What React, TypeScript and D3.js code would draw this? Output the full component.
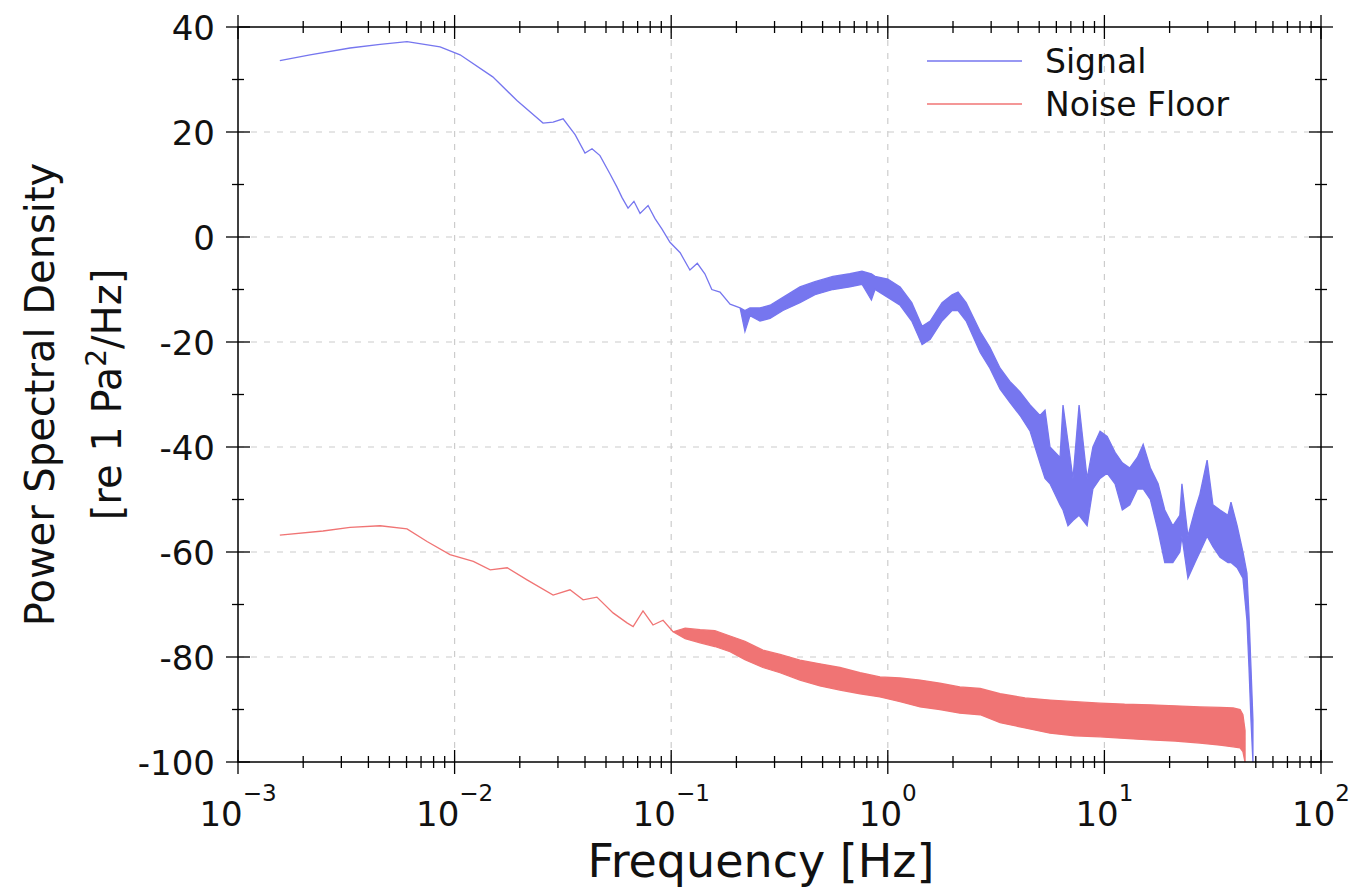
import React from 'react';
import * as d3 from 'd3';

// [frequency Hz, lower dB, upper dB] -- smooth part has lower == upper
const signalRows: [number, number, number][] = [
  [0.00156, 33.6, 33.6], [0.00215, 34.7, 34.7], [0.00329, 36.0, 36.0], [0.00453, 36.7, 36.7],
  [0.00603, 37.2, 37.2], [0.00857, 36.2, 36.2], [0.0106, 34.7, 34.7], [0.015, 30.5, 30.5],
  [0.0194, 26.0, 26.0], [0.0256, 21.7, 21.7], [0.0285, 21.9, 21.9], [0.0317, 22.5, 22.5],
  [0.036, 19.5, 19.5], [0.04, 16.0, 16.0], [0.0431, 16.8, 16.8], [0.0469, 15.5, 15.5],
  [0.0522, 12.0, 12.0], [0.0562, 9.5, 9.5], [0.0593, 7.5, 7.5], [0.0632, 5.5, 5.5],
  [0.0673, 6.8, 6.8], [0.0718, 4.5, 4.5], [0.0782, 6.0, 6.0], [0.0842, 3.5, 3.5],
  [0.0907, 1.5, 1.5], [0.0987, -1.0, -1.0], [0.11, -3.0, -3.0], [0.122, -6.3, -6.3],
  [0.132, -5.0, -5.0], [0.143, -7.0, -7.0], [0.154, -10.0, -10.0], [0.168, -10.5, -10.5],
  [0.187, -12.8, -12.8], [0.208, -13.5, -13.5],
  [0.219, -18, -14], [0.231, -15, -13.5], [0.257, -16, -13.5], [0.286, -15.5, -13],
  [0.328, -14, -11.5], [0.393, -12.5, -9.5], [0.461, -11, -8.5], [0.558, -10, -7.5],
  [0.668, -9.5, -7], [0.76, -9, -6.5], [0.84, -12, -7], [0.873, -10, -7.5],
  [1.0, -11.5, -8], [1.14, -13, -9.5], [1.29, -16, -12.5], [1.44, -20.5, -17],
  [1.57, -19.5, -16], [1.78, -16, -12.5], [1.98, -14, -11], [2.11, -14, -10.5],
  [2.3, -16, -12.5], [2.67, -22, -18], [2.96, -25, -21], [3.3, -29, -25],
  [3.66, -31.5, -27.5], [4.08, -34, -29.5], [4.54, -37, -32], [5.04, -43, -34],
  [5.32, -46, -33], [5.61, -47, -40], [6.24, -51, -42], [6.44, -52, -32],
  [6.79, -55, -39], [7.16, -54, -46], [7.64, -53, -32], [8.32, -55, -46],
  [8.85, -48, -40], [9.55, -46, -37], [10.3, -45, -38], [11.2, -47, -41],
  [12.1, -52, -43], [13.1, -51, -44], [14.2, -48, -42], [15.1, -48, -39.5],
  [16.3, -50, -44], [17.7, -56, -47], [19.0, -62, -52], [20.7, -62, -55],
  [22.3, -60, -53], [22.8, -57, -47], [24.3, -65, -57], [26.2, -62, -52],
  [27.6, -60, -49], [29.8, -57, -42.5], [31.7, -59, -51], [34.2, -61, -52],
  [37.2, -62, -53], [38.4, -62, -50.5], [41.0, -63, -55], [43.6, -65, -60],
  [45.5, -73, -64], [46.5, -82, -72], [47.5, -92, -82], [48.5, -100, -92],
];

const noiseRows: [number, number, number][] = [
  [0.00156, -56.8, -56.8], [0.00247, -56, -56], [0.00329, -55.3, -55.3], [0.00453, -55, -55],
  [0.00603, -55.6, -55.6], [0.00746, -58, -58], [0.00952, -60.5, -60.5], [0.0122, -61.8, -61.8],
  [0.0146, -63.4, -63.4], [0.0175, -63, -63], [0.0216, -65.3, -65.3], [0.0285, -68.2, -68.2],
  [0.0341, -67.2, -67.2], [0.0392, -69.1, -69.1], [0.0454, -68.6, -68.6], [0.0539, -71.6, -71.6],
  [0.0625, -73.5, -73.5], [0.0667, -74.2, -74.2], [0.0741, -71.2, -71.2], [0.0824, -73.9, -73.9],
  [0.0917, -73, -73], [0.102, -75.2, -75.2],
  [0.116, -76.5, -74.5], [0.136, -77.3, -74.8], [0.159, -78, -75], [0.187, -79, -76],
  [0.219, -80.5, -77], [0.265, -82, -78.7], [0.318, -83, -79.5], [0.393, -84.4, -80.6],
  [0.486, -85.5, -81.3], [0.601, -86.3, -82], [0.745, -87, -83], [0.92, -87.6, -83.8],
  [1.14, -88.5, -84], [1.41, -89.5, -84.4], [1.74, -90, -85], [2.15, -90.7, -85.7],
  [2.67, -91, -86], [3.3, -92.5, -87], [4.3, -93.5, -87.8], [5.61, -94.5, -88.2],
  [7.31, -95, -88.5], [9.55, -95.2, -88.8], [12.4, -95.5, -89], [16.3, -95.8, -89.1],
  [21.2, -96, -89.3], [27.6, -96.4, -89.5], [34.2, -96.8, -89.6], [39.3, -97.1, -89.7],
  [42.3, -97.3, -90], [43.6, -98, -91], [44.6, -100, -94],
];

const seriesNames = ['Signal', 'Noise Floor'];
const seriesColors = ['#7676ef', '#f07474'];
const xDecades = [1e-3, 1e-2, 1e-1, 1e0, 1e1, 1e2];
const xExponents = ['\u22123', '\u22122', '\u22121', '0', '1', '2'];
const yMajor = [-100, -80, -60, -40, -20, 0, 20, 40];
const yMinor = [-90, -70, -50, -30, -10, 10, 30];

const W = 1359;
const H = 893;
const margin = { top: 27, right: 38, bottom: 131, left: 238 };

const App = () => {
  const x = d3.scaleLog().domain([1e-3, 1e2]).range([margin.left, W - margin.right]);
  const y = d3.scaleLinear().domain([-100, 40]).range([H - margin.bottom, margin.top]);
  const x0 = margin.left, x1 = W - margin.right;
  const y0 = H - margin.bottom, y1 = margin.top;

  const band = d3.area<[number, number, number]>()
    .x(d => x(d[0]))
    .y0(d => y(d[1]))
    .y1(d => y(d[2]));

  // minor x ticks 2..9 per decade
  const xMinor: number[] = [];
  xDecades.slice(0, -1).forEach(d => {
    for (let k = 2; k <= 9; k++) xMinor.push(d * k);
  });

  const majorLen = 12;
  const minorLen = 6;
  const font = 'DejaVu Sans, Verdana, sans-serif';

  return (
    <svg width={W} height={H} style={{ position: 'absolute', left: 0, top: 0, background: '#fff' }}
      fontFamily={font}>
      <defs>
        <clipPath id="plot">
          <rect x={x0} y={y1} width={x1 - x0} height={y0 - y1 + 1} />
        </clipPath>
      </defs>

      {/* grid */}
      <g stroke="#cccccc" strokeWidth={1.2} strokeDasharray="6,7">
        {yMajor.filter(v => v > -100 && v < 40).map(v => (
          <line key={'gy' + v} x1={x0} x2={x1} y1={y(v)} y2={y(v)} />
        ))}
        {xDecades.slice(1, -1).map(v => (
          <line key={'gx' + v} x1={x(v)} x2={x(v)} y1={y1} y2={y0} />
        ))}
      </g>

      <g clipPath="url(#plot)">
        <path d={band(noiseRows) || ''} fill={seriesColors[1]} stroke={seriesColors[1]} strokeWidth={1.3} />
        <path d={band(signalRows) || ''} fill={seriesColors[0]} stroke={seriesColors[0]} strokeWidth={1.3} />
      </g>

      {/* frame */}
      <rect x={x0} y={y1} width={x1 - x0} height={y0 - y1} fill="none" stroke="#000" strokeWidth={1.5} />

      {/* ticks */}
      <g stroke="#000" strokeWidth={1.3}>
        {xDecades.map(v => (
          <g key={'xt' + v}>
            <line x1={x(v)} x2={x(v)} y1={y0 - majorLen} y2={y0 + majorLen} />
            <line x1={x(v)} x2={x(v)} y1={y1 - majorLen} y2={y1 + majorLen} />
          </g>
        ))}
        {xMinor.map(v => (
          <g key={'xm' + v}>
            <line x1={x(v)} x2={x(v)} y1={y0 - minorLen} y2={y0 + minorLen} />
            <line x1={x(v)} x2={x(v)} y1={y1 - minorLen} y2={y1 + minorLen} />
          </g>
        ))}
        {yMajor.map(v => (
          <g key={'yt' + v}>
            <line x1={x0 - majorLen} x2={x0 + majorLen} y1={y(v)} y2={y(v)} />
            <line x1={x1 - majorLen} x2={x1 + majorLen} y1={y(v)} y2={y(v)} />
          </g>
        ))}
        {yMinor.map(v => (
          <g key={'ym' + v}>
            <line x1={x0 - minorLen} x2={x0 + minorLen} y1={y(v)} y2={y(v)} />
            <line x1={x1 - minorLen} x2={x1 + minorLen} y1={y(v)} y2={y(v)} />
          </g>
        ))}
      </g>

      {/* tick labels */}
      <g fontSize={34} fill="#111">
        {yMajor.map(v => (
          <text key={'yl' + v} x={x0 - 23} y={y(v) + 13} textAnchor="end">{v}</text>
        ))}
        {xDecades.map((v, i) => (
          <text key={'xl' + v} x={x(v)} y={y0 + 64} textAnchor="middle">
            10<tspan fontSize={23} dy={-25}>{xExponents[i]}</tspan>
          </text>
        ))}
      </g>

      {/* axis titles */}
      <text x={761} y={877} textAnchor="middle" fontSize={46} fill="#111">Frequency [Hz]</text>
      <g transform={`translate(0, ${(y0 + y1) / 2}) rotate(-90)`} fill="#111" fontSize={40} textAnchor="middle">
        <text x={0} y={54}>Power Spectral Density</text>
        <text x={0} y={121}>
          [re 1 Pa<tspan fontSize={28} dy={-15}>2</tspan><tspan dy={15}>/Hz]</tspan>
        </text>
      </g>

      {/* legend */}
      <g fontSize={33} fill="#111">
        {seriesNames.map((name, i) => (
          <g key={name}>
            <line x1={927} x2={1022} y1={61 + i * 43} y2={61 + i * 43} stroke={seriesColors[i]} strokeWidth={1.5} />
            <text x={1045} y={73 + i * 43}>{name}</text>
          </g>
        ))}
      </g>
    </svg>
  );
};

export default App;
